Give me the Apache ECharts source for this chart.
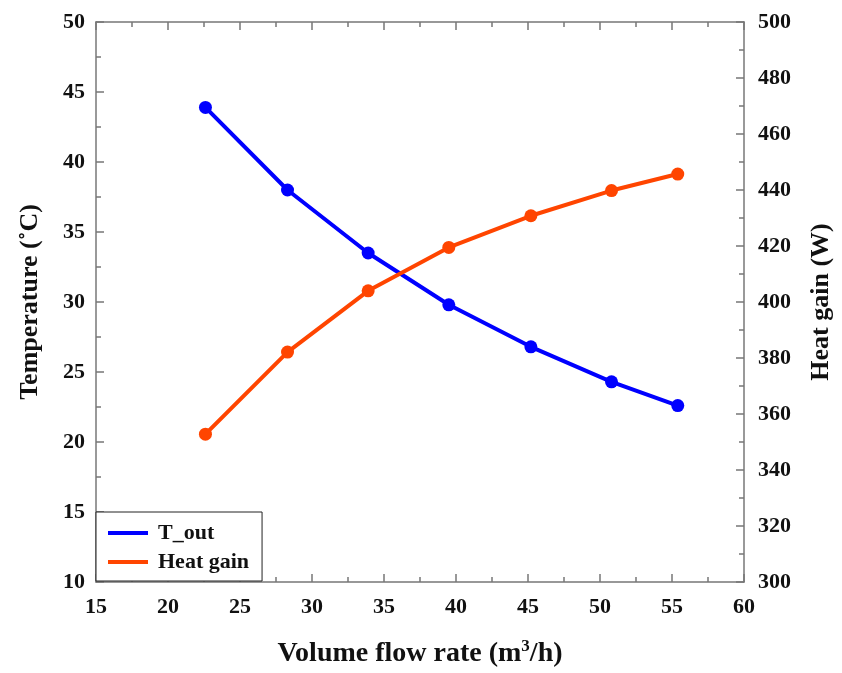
<!DOCTYPE html>
<html>
<head>
<meta charset="utf-8">
<script src="https://cdn.jsdelivr.net/npm/echarts@6/dist/echarts.min.js"></script>
<style>html,body{margin:0;padding:0;background:#fff;}#c{width:842px;height:673px;}</style>
</head>
<body>
<div id="c"></div>
<script>
var flowRate = [22.6, 28.3, 33.9, 39.5, 45.2, 50.8, 55.4];
var tOut = [43.9, 38.0, 33.5, 29.8, 26.8, 24.3, 22.6];
var heatGain = [352.8, 382.1, 404.0, 419.5, 430.8, 439.8, 445.7];
var seriesNames = ['T_out', 'Heat gain'];

var FONT = '"Liberation Serif", "Times New Roman", serif';
var axisColor = '#777';
var labelStyle = { fontFamily: FONT, fontWeight: 'bold', fontSize: 22, color: '#111' };
var nameStyle = { fontFamily: FONT, fontWeight: 'bold', fontSize: 26, color: '#111' };

function pairs(xs, ys) { return xs.map(function (x, i) { return [x, ys[i]]; }); }

var chart = echarts.init(document.getElementById('c'), null, { renderer: 'canvas' });
chart.setOption({
  backgroundColor: '#fff',
  animation: false,
  grid: { left: 96, right: 94, top: 22, bottom: 90, containLabel: false },
  legend: {
    left: 96, top: 512, orient: 'vertical',
    data: seriesNames,
    icon: 'rect', itemWidth: 40, itemHeight: 4, itemGap: 7,
    padding: [10, 13, 8, 12],
    borderColor: '#222', borderWidth: 1, backgroundColor: '#fff',
    textStyle: { fontFamily: FONT, fontWeight: 'bold', fontSize: 22, lineHeight: 20, color: '#111', padding: [0, 0, 0, 5] }
  },
  xAxis: [{
    type: 'value', min: 15, max: 60, interval: 5, position: 'bottom',
    name: '{a|Volume flow rate (m}{s|3}{a|/h)}', nameLocation: 'middle', nameGap: 56,
    nameTextStyle: { rich: { a: { fontFamily: FONT, fontWeight: 'bold', fontSize: 28, color: '#111' }, s: { fontFamily: FONT, fontWeight: 'bold', fontSize: 17, color: '#111', padding: [0, 0, 15, 0] } } },
    axisLine: { show: true, lineStyle: { color: axisColor, width: 1.5 } },
    axisTick: { show: true, inside: true, length: 8, lineStyle: { color: axisColor, width: 1.5 } },
    minorTick: { show: true, splitNumber: 2, length: 5, lineStyle: { color: axisColor, width: 1.5 } },
    axisLabel: Object.assign({ margin: 14 }, labelStyle),
    splitLine: { show: false }
  }, {
    type: 'value', min: 15, max: 60, interval: 5, position: 'top',
    axisLine: { show: true, lineStyle: { color: axisColor, width: 1.5 } },
    axisTick: { show: true, inside: true, length: 8, lineStyle: { color: axisColor, width: 1.5 } },
    minorTick: { show: true, splitNumber: 2, length: 5, lineStyle: { color: axisColor, width: 1.5 } },
    axisLabel: { show: false }, splitLine: { show: false }
  }],
  yAxis: [{
    type: 'value', min: 10, max: 50, interval: 5, position: 'left',
    name: 'Temperature (˚C)', nameLocation: 'middle', nameGap: 53, nameTextStyle: nameStyle,
    axisLine: { show: true, lineStyle: { color: axisColor, width: 1.5 } },
    axisTick: { show: true, inside: true, length: 8, lineStyle: { color: axisColor, width: 1.5 } },
    minorTick: { show: true, splitNumber: 2, length: 5, lineStyle: { color: axisColor, width: 1.5 } },
    axisLabel: Object.assign({ margin: 11 }, labelStyle),
    splitLine: { show: false }
  }, {
    type: 'value', min: 300, max: 500, interval: 20, position: 'right',
    name: 'Heat gain (W)', nameLocation: 'middle', nameGap: 64, nameTextStyle: nameStyle,
    axisLine: { show: true, lineStyle: { color: axisColor, width: 1.5 } },
    axisTick: { show: true, inside: true, length: 8, lineStyle: { color: axisColor, width: 1.5 } },
    minorTick: { show: true, splitNumber: 2, length: 5, lineStyle: { color: axisColor, width: 1.5 } },
    axisLabel: Object.assign({ margin: 14 }, labelStyle),
    splitLine: { show: false }
  }],
  series: [{
    name: seriesNames[0], type: 'line', xAxisIndex: 0, yAxisIndex: 0,
    data: pairs(flowRate, tOut),
    symbol: 'circle', symbolSize: 13,
    lineStyle: { color: '#0000ff', width: 4 },
    itemStyle: { color: '#0000ff' }
  }, {
    name: seriesNames[1], type: 'line', xAxisIndex: 0, yAxisIndex: 1,
    data: pairs(flowRate, heatGain),
    symbol: 'circle', symbolSize: 13,
    lineStyle: { color: '#ff4500', width: 4 },
    itemStyle: { color: '#ff4500' }
  }]
});
</script>
</body>
</html>
